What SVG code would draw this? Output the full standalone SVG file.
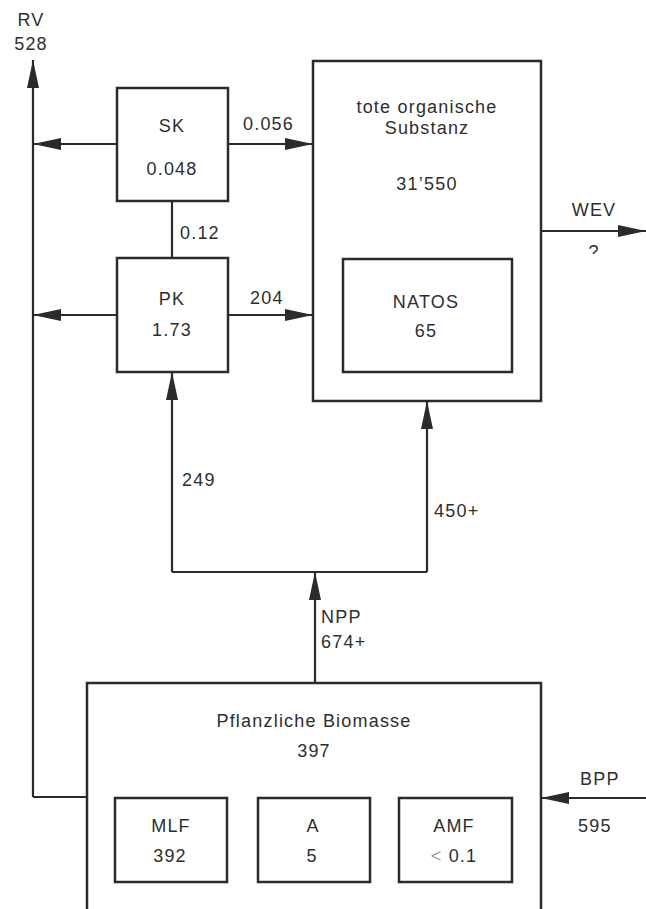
<svg xmlns="http://www.w3.org/2000/svg" width="646" height="909" viewBox="0 0 646 909">
<style>
.box{fill:none;stroke:#2b2b2b;stroke-width:2.5;stroke-linejoin:miter}
.ln{fill:none;stroke:#2b2b2b;stroke-width:2.2}
.arr{fill:none;stroke:#2b2b2b;stroke-width:2.2;marker-end:url(#ah)}
text{font-family:"Liberation Sans",Arial,sans-serif;font-size:18px;fill:#2e2e2e;letter-spacing:1.2px}
.c{text-anchor:middle}
</style>
<defs>
<marker id="ah" markerUnits="userSpaceOnUse" markerWidth="30" markerHeight="14" refX="28" refY="7" orient="auto">
<path d="M0,1 L28,7 L0,13 Z" fill="#2b2b2b"/>
</marker>
<clipPath id="qclip"><rect x="570" y="238" width="50" height="16"/></clipPath>
</defs>
<rect width="646" height="909" fill="#fff"/>

<g id="connectors">
<path class="arr" d="M33,797 L33,60"/>
<path class="ln" d="M33,797 L87,797"/>
<path class="arr" d="M117,144 L33,144"/>
<path class="arr" d="M228,144 L313,144"/>
<path class="ln" d="M172,201 L172,258"/>
<path class="arr" d="M117,315 L33,315"/>
<path class="arr" d="M228,315 L313,315"/>
<path class="arr" d="M541,231 L646,231"/>
<path class="arr" d="M315,683 L315,572"/>
<path class="ln" d="M172,572 L427,572"/>
<path class="arr" d="M172,572 L172,372"/>
<path class="arr" d="M427,572 L427,401"/>
<path class="arr" d="M646,798 L541,798"/>
</g>

<g id="labels">
<text class="c" x="31" y="26">RV</text>
<text class="c" x="31" y="50">528</text>
<text x="243" y="130">0.056</text>
<text x="180" y="239">0.12</text>
<text x="250" y="304">204</text>
<text class="c" x="594" y="216">WEV</text>
<text class="c" x="594" y="258" clip-path="url(#qclip)">?</text>
<text x="182" y="486">249</text>
<text x="434" y="517">450+</text>
<text x="321" y="623">NPP</text>
<text x="321" y="648">674+</text>
<text x="580" y="785">BPP</text>
<text x="578" y="832">595</text>
</g>

<g id="SK">
<rect class="box" x="117" y="88" width="111" height="113"/>
<text class="c" x="172" y="132">SK</text>
<text class="c" x="172" y="175">0.048</text>
</g>

<g id="PK">
<rect class="box" x="117" y="258" width="111" height="114"/>
<text class="c" x="172" y="305">PK</text>
<text class="c" x="172" y="336">1.73</text>
</g>

<g id="tote-organische-Substanz">
<rect class="box" x="313" y="61" width="228" height="340"/>
<text class="c" x="427" y="113">tote organische</text>
<text class="c" x="427" y="134">Substanz</text>
<text class="c" x="427" y="190">31’550</text>
</g>

<g id="NATOS">
<rect class="box" x="343" y="259" width="169" height="113"/>
<text class="c" x="426" y="308">NATOS</text>
<text class="c" x="426" y="337">65</text>
</g>

<g id="Pflanzliche-Biomasse">
<path class="box" d="M87,915 L87,683 L541,683 L541,915"/>
<text class="c" x="314" y="727">Pflanzliche Biomasse</text>
<text class="c" x="314" y="757">397</text>
</g>

<g id="MLF">
<rect class="box" x="115" y="798" width="112" height="84"/>
<text class="c" x="171" y="832">MLF</text>
<text class="c" x="170" y="862">392</text>
</g>

<g id="A">
<rect class="box" x="258" y="798" width="112" height="84"/>
<text class="c" x="313" y="832">A</text>
<text class="c" x="312" y="862">5</text>
</g>

<g id="AMF">
<rect class="box" x="399" y="798" width="113" height="84"/>
<text class="c" x="454" y="832">AMF</text>
<text class="c" x="454" y="862"><tspan fill="#999">&lt;</tspan> 0.1</text>
</g>
</svg>
